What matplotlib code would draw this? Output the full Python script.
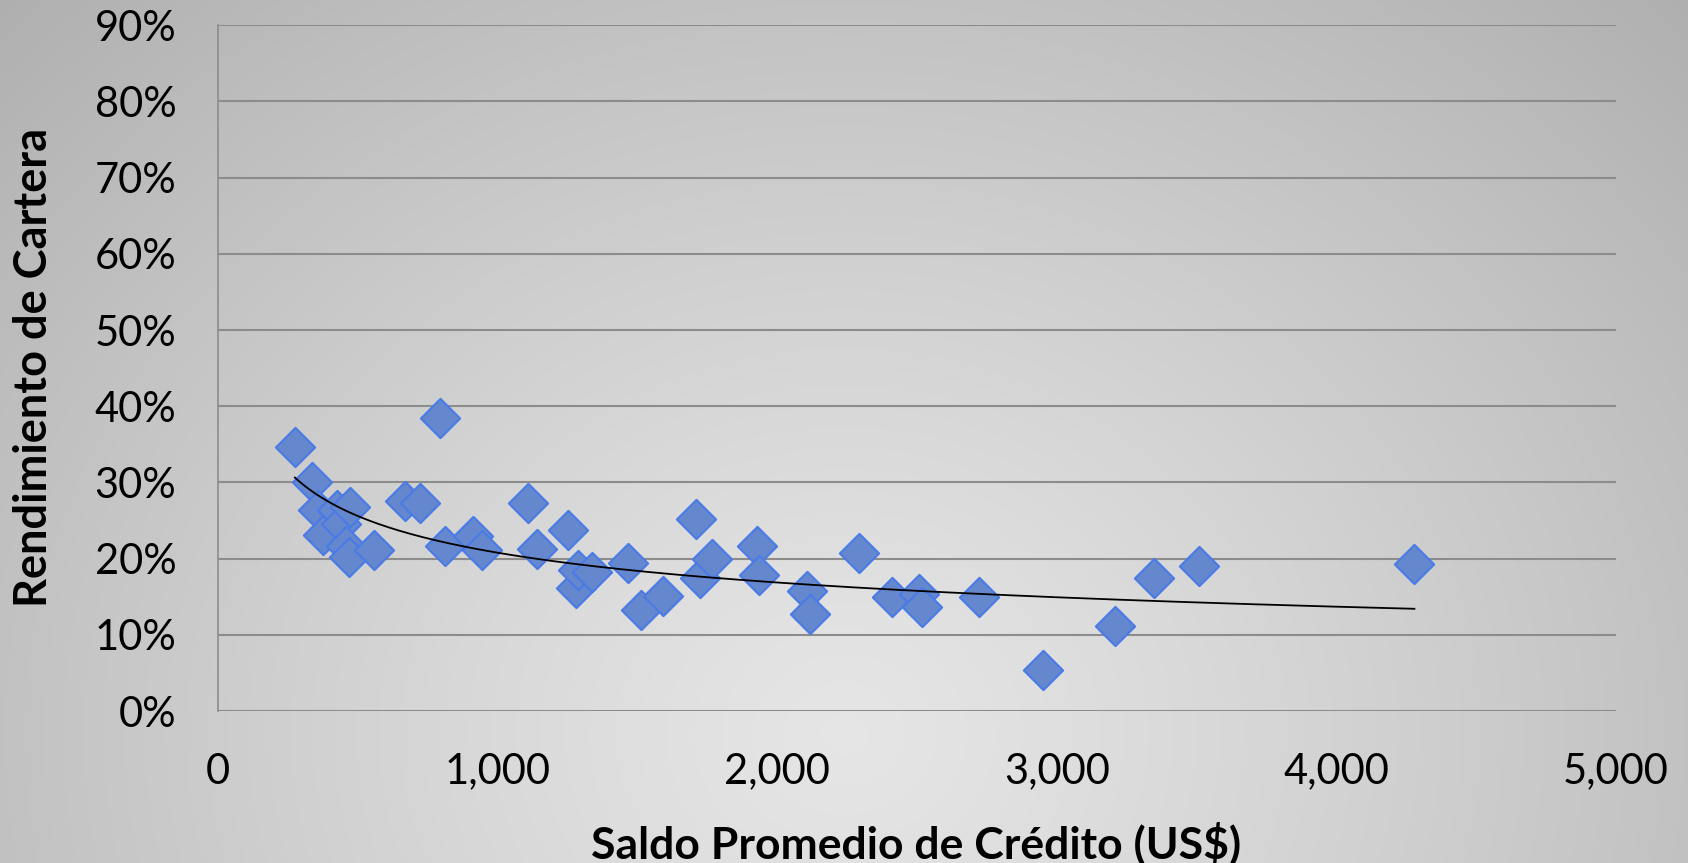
import numpy as np
import matplotlib
matplotlib.use('Agg')
from matplotlib import pyplot as plt
from matplotlib.ticker import FuncFormatter

# saldo promedio (US$) y rendimiento de cartera (%)
saldo = [275, 335, 359, 377, 424, 439, 458, 470, 472, 558, 669, 722, 794, 812,
         911, 943, 1110, 1142, 1253, 1280, 1289, 1336, 1468, 1512, 1590, 1710,
         1724, 1766, 1927, 1934, 2108, 2117, 2291, 2409, 2507, 2517, 2722, 2951,
         3207, 3349, 3510, 4279]
rendimiento = [34.6, 30.0, 26.4, 23.1, 26.4, 24.6, 21.7, 20.2, 26.8, 21.1, 27.6,
               27.3, 38.5, 21.6, 23.0, 21.1, 27.3, 21.2, 23.8, 16.1, 18.5, 18.3,
               19.4, 13.3, 15.1, 25.2, 17.4, 20.0, 21.7, 17.8, 15.7, 12.7, 20.7,
               14.9, 15.4, 13.7, 15.0, 5.4, 11.2, 17.5, 19.0, 19.3]
x_ticks = [0, 1000, 2000, 3000, 4000, 5000]
y_ticks = [0, 10, 20, 30, 40, 50, 60, 70, 80, 90]

plt.rcParams['font.family'] = ['Lato', 'DejaVu Sans']

W, H = 1688, 863
fig = plt.figure(figsize=(W / 100, H / 100), dpi=100)

# fondo con degradado radial
bg = fig.add_axes([0, 0, 1, 1], zorder=-10)
yy, xx = np.mgrid[0:H, 0:W]
r = np.sqrt(((xx - 0.5 * W) / (0.5 * W)) ** 2 + ((yy - 0.85 * H) / (0.85 * H)) ** 2)
g = 0.90 - 0.14 * r ** 1.2
bg.imshow(np.dstack([g, g, g]), aspect='auto', extent=[0, 1, 0, 1])
bg.axis('off')

ax = fig.add_axes([218 / W, 1 - 711 / H, (1616 - 218) / W, (711 - 25.3) / H])
ax.set_facecolor('none')

ax.scatter(saldo, rendimiento, marker='D', s=400, color='#6487cd',
           edgecolors='#4a7ae6', linewidths=1.5, zorder=3)

# linea de tendencia potencial
xs = np.array(saldo, dtype=float)
ys = np.array(rendimiento, dtype=float)
b, a = np.polyfit(np.log(xs), np.log(ys), 1)
xt = np.linspace(xs.min(), xs.max(), 300)
ax.plot(xt, np.exp(a) * xt ** b, color='black', lw=1.3, zorder=4)

ax.set_xlim(0, 5000)
ax.set_ylim(0, 90)
ax.set_xticks(x_ticks)
ax.set_yticks(y_ticks)
ax.xaxis.set_major_formatter(FuncFormatter(lambda v, p: '{:,.0f}'.format(v)))
ax.yaxis.set_major_formatter(FuncFormatter(lambda v, p: '{:.0f}%'.format(v)))
ax.grid(axis='y', color='#8c8c8c', lw=1.5)
ax.set_axisbelow(True)
for s in ['top', 'right', 'bottom']:
    ax.spines[s].set_visible(False)
ax.spines['left'].set_color('#8c8c8c')
ax.spines['left'].set_linewidth(1.2)
ax.tick_params(axis='both', length=0, labelsize=30)
ax.tick_params(axis='x', pad=30)
ax.tick_params(axis='y', pad=30)

fig.text(34 / W, 1 - 367 / H, 'Rendimiento de Cartera', rotation=90,
         fontsize=32.5, fontweight='bold', ha='center', va='center')
fig.text(916 / W, 1 - 843 / H, 'Saldo Promedio de Crédito (US$)',
         fontsize=32, fontweight='bold', ha='center', va='center')

plt.savefig('out.png', dpi=100)
